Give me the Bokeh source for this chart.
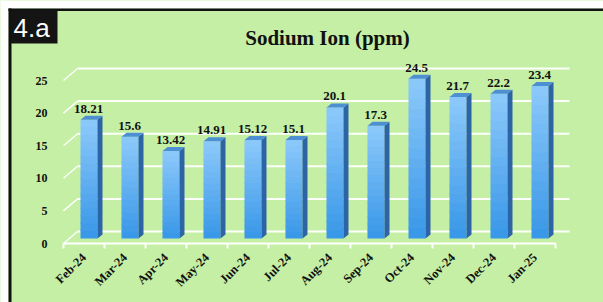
import numpy as np
from bokeh.plotting import figure
from bokeh.models import Range1d, FixedTicker, Label, ColumnDataSource
from bokeh.embed import file_html
from bokeh.resources import INLINE
from bokeh.core.properties import value

months = ["Feb-24", "Mar-24", "Apr-24", "May-24", "Jun-24", "Jul-24",
          "Aug-24", "Sep-24", "Oct-24", "Nov-24", "Dec-24", "Jan-25"]
sodium = [18.21, 15.6, 13.42, 14.91, 15.12, 15.1, 20.1, 17.3, 24.5, 21.7, 22.2, 23.4]
value_labels = ["18.21", "15.6", "13.42", "14.91", "15.12", "15.1",
                "20.1", "17.3", "24.5", "21.7", "22.2", "23.4"]
y_ticks = [0, 5, 10, 15, 20, 25]
chart_title = "Sodium Ion (ppm)"
panel_tag = "4.a"

BG = "#c4efa4"
W, H = 603, 302
PXU_X = 41.0               # pixels per category
PXU_Y = 6.52               # pixels per unit
FRONT_LEFT = 63            # pixel x of category edge -0.5 on the front plane
FRONT_ZERO = 243           # pixel y of value 0 on the front plane

px = lambda n: n / PXU_X
py = lambda n: n / PXU_Y
PX = lambda sx: -0.5 + (sx - FRONT_LEFT) / PXU_X
PY = lambda sy: (FRONT_ZERO - sy) / PXU_Y

p = figure(width=W, height=H, output_backend="svg", toolbar_location=None,
           x_range=Range1d(PX(0), PX(W)), y_range=Range1d(PY(H), PY(0)),
           min_border=0, min_border_left=0, min_border_right=0,
           min_border_top=0, min_border_bottom=0,
           background_fill_color=BG, border_fill_color=BG,
           outline_line_color=None)

p.xgrid.visible = False
p.ygrid.visible = False

# page margin and black frame edge
p.quad(left=[PX(0)], right=[PX(W)], top=[PY(0)], bottom=[PY(8)],
       fill_color="white", line_color=None)
p.quad(left=[PX(0)], right=[PX(8)], top=[PY(0)], bottom=[PY(H)],
       fill_color="white", line_color=None)
p.quad(left=[PX(8)], right=[PX(W)], top=[PY(8)], bottom=[PY(10.5)],
       fill_color="#111111", line_color=None)
p.quad(left=[PX(8)], right=[PX(11)], top=[PY(8)], bottom=[PY(H)],
       fill_color="#111111", line_color=None)

n = len(months)
# back-wall gridlines with perspective offset
gdx, gdy = px(14), py(12)
for yv in y_ticks:
    p.segment(x0=[-0.5 + gdx], y0=[yv + gdy], x1=[n - 0.5 + gdx], y1=[yv + gdy],
              line_color="white", line_width=2, line_alpha=0.95)
    p.segment(x0=[-0.5], y0=[yv], x1=[-0.5 + gdx], y1=[yv + gdy],
              line_color="white", line_width=1.5, line_alpha=0.95)
# front floor line
p.segment(x0=[-0.5], y0=[0], x1=[n - 0.5], y1=[0], line_color="white", line_width=2)

# 3-D bars
bx, by = px(5), py(5)
bw = px(17)
sdx, sdy = px(5), py(4)
NS = 16
top_c = np.array([0x8e, 0xca, 0xfb])
bot_c = np.array([0x38, 0x97, 0xe8])
ql, qr, qb, qt, qc = [], [], [], [], []
side_xs, side_ys, top_xs, top_ys = [], [], [], []
for i, v in enumerate(sodium):
    xl = i - bw / 2 + bx
    xr = i + bw / 2 + bx
    for k in range(NS):
        f0 = k / NS
        f1 = (k + 1) / NS
        ql.append(xl); qr.append(xr)
        qb.append(by + v * f0)
        qt.append(by + v * f1 + (py(1) if k < NS - 1 else 0))
        t = (k + 0.5) / NS
        c = (bot_c * (1 - t) + top_c * t).astype(int)
        qc.append("#%02x%02x%02x" % tuple(c))
    side_xs.append([xr, xr + sdx, xr + sdx, xr])
    side_ys.append([by, by + sdy, by + v + sdy, by + v])
    top_xs.append([xl, xr, xr + sdx, xl + sdx])
    top_ys.append([by + v, by + v, by + v + sdy, by + v + sdy])

p.quad(left=ql, right=qr, bottom=qb, top=qt, fill_color=qc, line_color=None)
p.patches(side_xs, side_ys, fill_color="#2c64a6", line_color=None)
p.patches(top_xs, top_ys, fill_color="#4d8fd3", line_color=None)

src = ColumnDataSource(dict(
    x=[i + px(4.5) for i in range(n)],
    y=[v + by + sdy + py(3) for v in sodium],
    t=value_labels))
p.text(x="x", y="y", text="t", source=src, text_align="center",
       text_baseline="bottom", text_font=value("Liberation Serif"),
       text_font_size="13px", text_font_style="bold", text_color="#111111")

# title and panel tag
p.add_layout(Label(x=PX(327), y=PY(37), text=chart_title, text_align="center",
                   text_baseline="middle", text_font="Liberation Serif",
                   text_font_size="21px", text_font_style="bold",
                   text_color="#111111"))
p.quad(left=[PX(10)], right=[PX(57)], top=[PY(10)], bottom=[PY(43)],
       fill_color="#141414", line_color=None)
p.add_layout(Label(x=PX(13), y=PY(27), text=panel_tag, text_align="left",
                   text_baseline="middle", text_font="Liberation Sans",
                   text_font_size="26px", text_color="white"))

# axes, pinned inside the frame at the front plane
p.yaxis.fixed_location = -0.5
p.yaxis.ticker = FixedTicker(ticks=y_ticks)
p.yaxis.axis_line_color = None
p.yaxis.major_tick_line_color = None
p.yaxis.minor_tick_line_color = None
p.yaxis.major_tick_out = 0
p.yaxis.major_tick_in = 0
p.yaxis.major_label_text_font = "Liberation Serif"
p.yaxis.major_label_text_font_style = "bold"
p.yaxis.major_label_text_font_size = "12px"
p.yaxis.major_label_text_color = "#111111"
p.yaxis.major_label_standoff = 16

centers = list(range(n))
bounds = [i - 0.5 for i in range(n + 1)]
p.xaxis.fixed_location = 0
p.xaxis.ticker = FixedTicker(ticks=centers, minor_ticks=bounds)
p.xaxis.major_label_overrides = {i: m for i, m in enumerate(months)}
p.xaxis.axis_line_color = None
p.xaxis.major_tick_line_color = None
p.xaxis.major_tick_out = 0
p.xaxis.major_tick_in = 0
p.xaxis.minor_tick_line_color = "white"
p.xaxis.minor_tick_line_width = 2
p.xaxis.minor_tick_out = 5
p.xaxis.minor_tick_in = 0
p.xaxis.major_label_orientation = np.pi / 4
p.xaxis.major_label_text_font = "Liberation Serif"
p.xaxis.major_label_text_font_style = "bold"
p.xaxis.major_label_text_font_size = "12.5px"
p.xaxis.major_label_text_color = "#111111"
p.xaxis.major_label_standoff = 7

open("out.html", "w").write(file_html(p, INLINE))
